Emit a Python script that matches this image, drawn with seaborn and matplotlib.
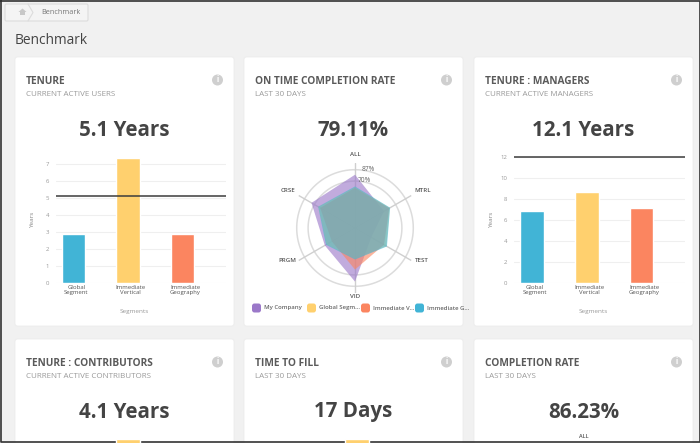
import numpy as np
import pandas as pd
import seaborn as sns
import matplotlib
matplotlib.use('Agg')
from matplotlib import pyplot as plt
from matplotlib.patches import FancyBboxPatch, Circle, Polygon

W, H = 700, 443

segments = ['Global\nSegment', 'Immediate\nVertical', 'Immediate\nGeography']
seg_colors = ['#41b4d6', '#ffd06e', '#fb8560']

tenure_vals = [2.9, 7.38, 2.9]
tenure_line = 5.1
tenure_ticks = [0, 1, 2, 3, 4, 5, 6, 7]

managers_vals = [6.9, 8.7, 7.15]
managers_line = 12.0
managers_ticks = [0, 2, 4, 6, 8, 10, 12]

radar_axes = ['ALL', 'MTRL', 'TEST', 'VID', 'PRGM', 'CRSE']
radar_company = [79.5, 50, 28, 80, 52, 75]
radar_global = [61, 60, 54, 46, 49, 63]
radar_vertical = [60, 59, 50, 62, 40, 60]
radar_geography = [62, 60.5, 55, 47, 50, 63.5]
radar_rings = [70, 87]
radar_names = ['My Company', 'Global Segm...', 'Immediate V...', 'Immediate G...']
radar_colors = ['#9b78c9', '#ffd06e', '#fb8560', '#41b4d6']

cards = [
    ('TENURE', 'CURRENT ACTIVE USERS', '5.1 Years'),
    ('ON TIME COMPLETION RATE', 'LAST 30 DAYS', '79.11%'),
    ('TENURE : MANAGERS', 'CURRENT ACTIVE MANAGERS', '12.1 Years'),
    ('TENURE : CONTRIBUTORS', 'CURRENT ACTIVE CONTRIBUTORS', '4.1 Years'),
    ('TIME TO FILL', 'LAST 30 DAYS', '17 Days'),
    ('COMPLETION RATE', 'LAST 30 DAYS', '86.23%'),
]

sns.set_theme(style='white')
plt.rcParams['font.family'] = ['Open Sans', 'DejaVu Sans']

fig = plt.figure(figsize=(W / 100, H / 100), dpi=100, facecolor='#f1f1f1')


def px_axes(x0, y0, x1, y1, **kw):
    return fig.add_axes([x0 / W, 1 - y1 / H, (x1 - x0) / W, (y1 - y0) / H], **kw)


def label(x, y, s, **kw):
    kw.setdefault('ha', 'center')
    kw.setdefault('va', 'center')
    fig.text(x / W, 1 - y / H, s, **kw)


# page background in pixel coords
bg = px_axes(0, 0, W, H)
bg.set_xlim(0, W)
bg.set_ylim(H, 0)
bg.axis('off')
bg.set_zorder(-1)

bg.add_patch(FancyBboxPatch((5, 4), 83, 17, boxstyle='round,pad=0,rounding_size=1.5',
                            fc='#f4f4f4', ec='#dcdcdc', lw=0.8))
bg.plot([28, 33, 28], [4, 12.5, 21], color='#dcdcdc', lw=0.8)
bg.add_patch(Polygon([(18.5, 12), (22.5, 8.5), (26.5, 12), (25, 12), (25, 15), (20, 15), (20, 12)],
                     fc='#c8c8c8', ec='none'))
label(61, 13, 'Benchmark', fontsize=5.2, color='#777777')
label(14.5, 41, 'Benchmark', fontsize=9.9, color='#444444', ha='left')

card_x = [15, 244, 474]
card_y = [57, 339]
for i, (title, sub, big) in enumerate(cards):
    x = card_x[i % 3]
    y = card_y[i // 3]
    bg.add_patch(FancyBboxPatch((x, y), 219, 269, boxstyle='round,pad=0,rounding_size=2.5',
                                fc='white', ec='#ececec', lw=0.6))
    label(x + 11, y + 24.5, title, fontsize=7.3, fontweight='bold', color='#5a5a5a', ha='left')
    label(x + 11, y + 37, sub, fontsize=5.8, color='#9a9a9a', ha='left')
    label(x + 109.5, y + 73, big, fontsize=14.8, fontweight='bold', color='#444444')
    bg.add_patch(Circle((x + 202.5, y + 23), 5.5, fc='#cfcfcf', ec='none'))
    label(x + 202.5, y + 23, 'i', fontsize=5.5, fontweight='bold', color='white')

# dark frame of the screenshot
bg.plot([0.5, 0.5, 699.5, 699.5, 0.5], [0.5, 441.8, 441.8, 0.5, 0.5], color='#333333', lw=1.2)


def bar_panel(x0, x1, y0, y1, vals, line, ticks, ymax, xlim):
    ax = px_axes(x0, y0, x1, y1)
    ax.patch.set_alpha(0)
    df = pd.DataFrame({'segment': segments, 'value': vals})
    sns.barplot(data=df, x='segment', y='value', hue='segment', palette=seg_colors,
                width=0.43, legend=False, ax=ax, zorder=3, saturation=1)
    ax.set_xlim(*xlim)
    ax.set_ylim(0, ymax)
    ax.axhline(line, color='#3c3c3c', lw=1.1, zorder=4)
    ax.set_yticks(ticks)
    ax.set_xticks([0.05, 1.05, 2.05])
    ax.set_xticklabels(segments, linespacing=1.1)
    ax.tick_params(axis='x', labelsize=4.3, labelcolor='#555555', length=0, pad=1.5)
    ax.tick_params(axis='y', labelsize=4.3, labelcolor='#999999', length=0, pad=5)
    ax.grid(axis='y', color='#efefef', lw=0.8, zorder=0)
    ax.set_axisbelow(True)
    sns.despine(ax=ax, left=True, bottom=True)
    ax.set_xlabel('')
    ax.set_ylabel('')
    return ax


bar_panel(56, 226, 155, 283, tenure_vals, tenure_line, tenure_ticks, 128 / 17, (-0.321, 2.80))
label(33, 220, 'Years', fontsize=4.6, color='#888888', rotation=90)
label(134, 311, 'Segments', fontsize=4.6, color='#999999')

bar_panel(514, 685, 155, 283, managers_vals, managers_line, managers_ticks, 128 / 10.47, (-0.33, 2.79))
label(492, 220, 'Years', fontsize=4.6, color='#888888', rotation=90)
label(593, 311, 'Segments', fontsize=4.6, color='#999999')

# radar
theta = np.deg2rad(np.arange(len(radar_axes)) * 60)
rmax = 97.0
rad = px_axes(355 - 65, 228 - 65, 355 + 65, 228 + 65, projection='polar')
rad.patch.set_alpha(0)
rad.set_theta_zero_location('N')
rad.set_theta_direction(-1)
rad.set_ylim(0, rmax)
rad.grid(False)
rad.set_xticks([])
rad.set_yticks([])
rad.spines['polar'].set_visible(False)
circle = np.linspace(0, 2 * np.pi, 200)
for ring in radar_rings:
    rad.plot(circle, np.full_like(circle, ring), color='#dcdcdc', lw=1.1, zorder=1)
for t in theta:
    rad.plot([t, t], [0, rmax], color='#cfcfcf', lw=1.0, zorder=1)
series = [radar_company, radar_global, radar_vertical, radar_geography]
for n, (vals, col) in enumerate(zip(series, radar_colors)):
    rad.fill(theta, vals, color=col, alpha=0.62, lw=0, zorder=2 + n)

label_pos = [(355, 155), (423, 190.7), (422, 261), (355, 297), (287, 261), (288, 190.7)]
for name, (lx, ly) in zip(radar_axes, label_pos):
    label(lx, ly, name, fontsize=4.4, color='#555555', fontweight='semibold')
label(362, 169.7, '87%', fontsize=4.8, color='#666666', ha='left')
label(358, 180.7, '70%', fontsize=4.8, color='#666666', ha='left')

legend_x = [252, 307, 361, 415]
for lx, name, col in zip(legend_x, radar_names, radar_colors):
    bg.add_patch(FancyBboxPatch((lx, 303.5), 9, 9, boxstyle='round,pad=0,rounding_size=2.5',
                                fc=col, ec='none'))
    label(lx + 12, 308, name, fontsize=4.3, color='#666666', ha='left', fontweight='semibold')

# second row: only the top of the middle bar is inside the screenshot
stub_vals = [6.0, 6.0]
for off, val in zip([0, 229], stub_vals):
    ax = px_axes(56 + off, 437, 226 + off, 565)
    ax.patch.set_alpha(0)
    sns.barplot(x=[segments[1]], y=[val], order=segments, color=seg_colors[1], width=0.43,
                ax=ax, saturation=1)
    ax.set_xlim(-0.321, 2.80)
    ax.set_ylim(0, val * 128 / 126)
    ax.set_xticks([])
    ax.set_yticks([])
    ax.set_xlabel('')
    ax.set_ylabel('')
    sns.despine(ax=ax, left=True, bottom=True)
label(584, 437, 'ALL', fontsize=4.0, color='#555555', fontweight='semibold')

fig.savefig('out.png', dpi=100, facecolor=fig.get_facecolor())
